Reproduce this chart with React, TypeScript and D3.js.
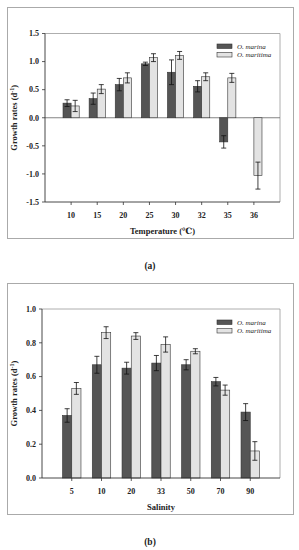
import React from 'react';
import * as d3 from 'd3';

const tempCategories = ['10', '15', '20', '25', '30', '32', '35', '36'];
const tempMarina = [0.26, 0.34, 0.59, 0.96, 0.81, 0.56, -0.43, null];
const tempMarinaErr = [0.06, 0.1, 0.11, 0.03, 0.22, 0.1, 0.11, null];
const tempMaritima = [0.21, 0.51, 0.71, 1.07, 1.11, 0.73, 0.71, -1.03];
const tempMaritimaErr = [0.1, 0.08, 0.09, 0.07, 0.07, 0.07, 0.08, 0.24];
const tempTicks = [-1.5, -1.0, -0.5, 0.0, 0.5, 1.0, 1.5];

const salCategories = ['5', '10', '20', '33', '50', '70', '90'];
const salMarina = [0.37, 0.67, 0.65, 0.68, 0.67, 0.57, 0.39];
const salMarinaErr = [0.04, 0.05, 0.035, 0.045, 0.03, 0.025, 0.05];
const salMaritima = [0.53, 0.86, 0.84, 0.79, 0.75, 0.52, 0.16];
const salMaritimaErr = [0.035, 0.035, 0.02, 0.045, 0.015, 0.03, 0.055];
const salTicks = [0.0, 0.2, 0.4, 0.6, 0.8, 1.0];

const seriesNames = ['O. marina', 'O. maritima'];
const DARK = '#555555';
const LIGHT = '#e3e3e3';
const FONT = '"Liberation Serif", "DejaVu Serif", serif';

interface PanelProps {
  boxY: number;
  plot: { left: number; right: number; top: number; bottom: number };
  domain: [number, number];
  ticks: number[];
  categories: string[];
  marina: (number | null)[];
  marinaErr: (number | null)[];
  maritima: (number | null)[];
  maritimaErr: (number | null)[];
  xTitle: string;
  caption: string;
  legendY: number;
  barFrac: number;
}

const Panel: React.FC<PanelProps> = (p) => {
  const x = d3.scalePoint<string>().domain(p.categories).range([p.plot.left, p.plot.right]).padding(1);
  const y = d3.scaleLinear().domain(p.domain).range([p.plot.bottom, p.plot.top]);
  const bw = x.step() * p.barFrac;
  const y0 = y(Math.max(0, p.domain[0]));

  const bars = (vals: (number | null)[], errs: (number | null)[], s: number) =>
    vals.map((v, i) => {
      if (v == null) return null;
      const cx = x(p.categories[i])!;
      const bx = s === 0 ? cx - bw : cx;
      const top = Math.min(y(v), y0);
      const h = Math.abs(y(v) - y0);
      const e = errs[i] || 0;
      const mid = bx + bw / 2;
      return (
        <g key={s + '-' + i}>
          <rect x={bx} y={top} width={bw} height={h} fill={s === 0 ? DARK : LIGHT} stroke="#333" strokeWidth={0.6} />
          <line x1={mid} x2={mid} y1={y(v + e)} y2={y(v - e)} stroke="#111" strokeWidth={0.8} />
          <line x1={mid - 2.5} x2={mid + 2.5} y1={y(v + e)} y2={y(v + e)} stroke="#111" strokeWidth={0.8} />
          <line x1={mid - 2.5} x2={mid + 2.5} y1={y(v - e)} y2={y(v - e)} stroke="#111" strokeWidth={0.8} />
        </g>
      );
    });

  const cx = (p.plot.left + p.plot.right) / 2;

  return (
    <g fontFamily={FONT}>
      <rect x={7.5} y={p.boxY + 0.5} width={286} height={231} fill="white" stroke="#aaa" strokeWidth={1} />
      {/* frame */}
      <line x1={p.plot.left} x2={p.plot.right} y1={p.plot.top} y2={p.plot.top} stroke="#999" strokeWidth={0.8} />
      <line x1={p.plot.right} x2={p.plot.right} y1={p.plot.top} y2={p.plot.bottom} stroke="#999" strokeWidth={0.8} />
      {p.domain[0] < 0 && (
        <line x1={p.plot.left} x2={p.plot.right} y1={y0} y2={y0} stroke="#666" strokeWidth={0.8} />
      )}
      {bars(p.marina, p.marinaErr, 0)}
      {bars(p.maritima, p.maritimaErr, 1)}
      <line x1={p.plot.left} x2={p.plot.left} y1={p.plot.top} y2={p.plot.bottom} stroke="#333" strokeWidth={0.9} />
      <line x1={p.plot.left} x2={p.plot.right} y1={p.plot.bottom} y2={p.plot.bottom} stroke="#333" strokeWidth={0.9} />
      {p.ticks.map((t) => (
        <g key={'yt' + t}>
          <line x1={p.plot.left - 3} x2={p.plot.left} y1={y(t)} y2={y(t)} stroke="#333" strokeWidth={0.8} />
          <text x={p.plot.left - 6} y={y(t)} dy="0.35em" textAnchor="end" fontSize={8} fontWeight="bold" fill="#222">
            {t.toFixed(1)}
          </text>
        </g>
      ))}
      {p.categories.map((c) => (
        <g key={'xt' + c}>
          <line x1={x(c)} x2={x(c)} y1={p.plot.bottom} y2={p.plot.bottom + 3} stroke="#333" strokeWidth={0.8} />
          <text x={x(c)} y={p.plot.bottom + 16} textAnchor="middle" fontSize={8} fontWeight="bold" fill="#222">
            {c}
          </text>
        </g>
      ))}
      <text x={cx} y={p.plot.bottom + 32} textAnchor="middle" fontSize={8.5} fontWeight="bold" fill="#222">
        {p.xTitle}
      </text>
      <text
        transform={`translate(17,${(p.plot.top + p.plot.bottom) / 2}) rotate(-90)`}
        textAnchor="middle"
        fontSize={8.5}
        fontWeight="bold"
        fill="#222"
      >
        Growth rates (d<tspan dy={-3} fontSize={6}>-1</tspan><tspan dy={3}>)</tspan>
      </text>
      {seriesNames.map((n, i) => (
        <g key={n}>
          <rect x={217} y={p.legendY + i * 8.5} width={15} height={4.5} fill={i === 0 ? DARK : LIGHT} stroke="#333" strokeWidth={0.6} />
          <text x={237} y={p.legendY + i * 8.5 + 2.3} dy="0.35em" fontSize={7} fontStyle="italic" fill="#222">
            {n}
          </text>
        </g>
      ))}
      <text x={150} y={p.boxY + 262} textAnchor="middle" fontSize={9.5} fontWeight="bold" fill="#222">
        {p.caption}
      </text>
    </g>
  );
};

const App: React.FC = () => {
  return (
    <svg width={299} height={550} style={{ position: 'absolute', left: 0, top: 0, background: 'white' }}>
      <rect width={299} height={550} fill="white" />
      <Panel
        boxY={7}
        plot={{ left: 45, right: 280, top: 33.5, bottom: 202 }}
        domain={[-1.5, 1.5]}
        ticks={tempTicks}
        categories={tempCategories}
        marina={tempMarina}
        marinaErr={tempMarinaErr}
        maritima={tempMaritima}
        maritimaErr={tempMaritimaErr}
        xTitle="Temperature (℃)"
        caption="(a)"
        legendY={44}
        barFrac={0.31}
      />
      <Panel
        boxY={283}
        plot={{ left: 42, right: 280, top: 309, bottom: 478 }}
        domain={[0, 1]}
        ticks={salTicks}
        categories={salCategories}
        marina={salMarina}
        marinaErr={salMarinaErr}
        maritima={salMaritima}
        maritimaErr={salMaritimaErr}
        xTitle="Salinity"
        caption="(b)"
        legendY={320}
        barFrac={0.31}
      />
    </svg>
  );
};

export default App;
